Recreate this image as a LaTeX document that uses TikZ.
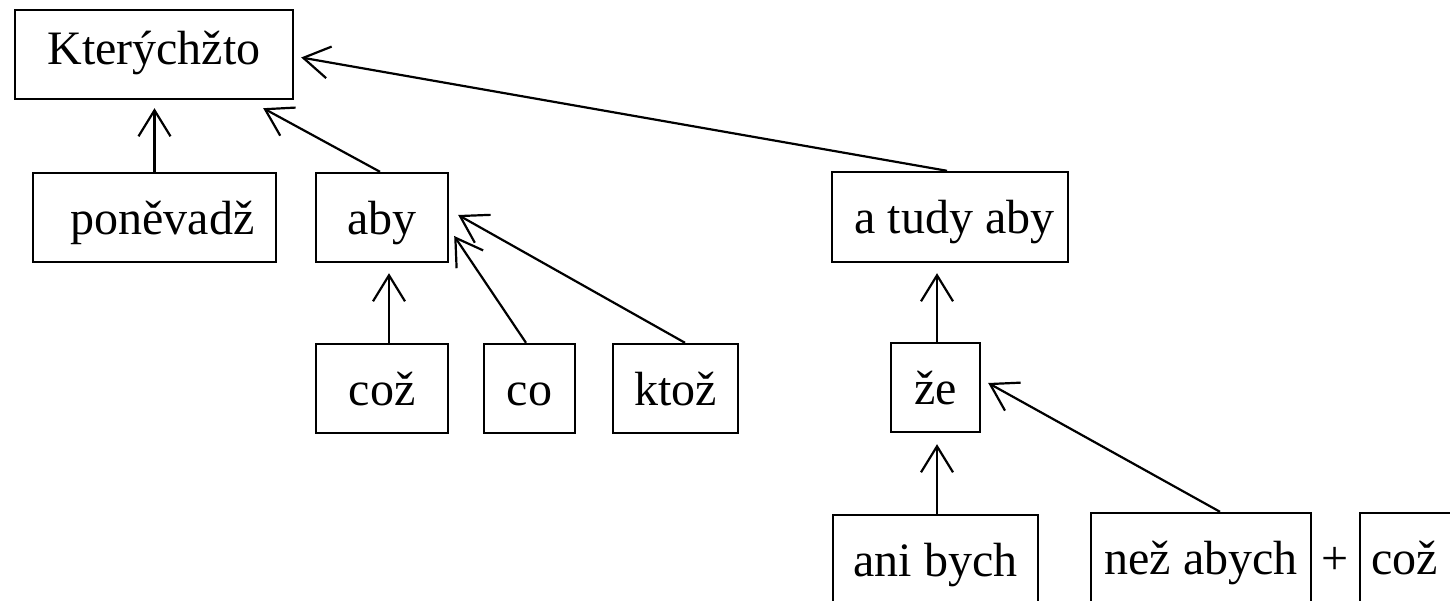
\documentclass[tikz,border=0pt]{standalone}
\usepackage{fontspec}
\setmainfont{Liberation Serif}
\usetikzlibrary{arrows.meta,calc}
\begin{document}
\begin{tikzpicture}[x=1pt,y=-1pt,
  wbox/.style={draw,line width=2.4pt,rectangle,inner sep=0pt,minimum height=89pt,
    font=\fontsize{48}{58}\selectfont,text height=33.6pt,text depth=0pt},
  arr/.style={line width=2.2pt,-{Straight Barb[length=26pt,width=32pt,line width=2.2pt]}},
  plain/.style={inner sep=0pt,font=\fontsize{48}{58}\selectfont}]
\useasboundingbox[fill=white] (0,0) rectangle (1450,601);
\clip (0,0) rectangle (1450,601);
\node[wbox,minimum width=278pt,text depth=13pt] (K) at (154,54.5) {Kterýchžto};
\node[wbox,minimum width=243pt] (P) at (154.5,217.5) {\hspace*{16pt}poněvadž};
\node[wbox,minimum width=132pt] (A) at (382,217.5) {aby};
\node[wbox,minimum width=236pt,minimum height=90pt] (T) at (950,217) {\hspace*{9pt}a tudy aby};
\node[wbox,minimum width=132pt] (C1) at (382,388.5) {což};
\node[wbox,minimum width=91pt] (C2) at (529.5,388.5) {co};
\node[wbox,minimum width=125pt] (KT) at (675.5,388.5) {ktož};
\node[wbox,minimum width=89pt] (Z) at (935.5,387.5) {že};
\node[wbox,minimum width=205pt] (AB) at (935.5,559.5) {ani bych};
\node[wbox,minimum width=220pt] (NA) at (1201,557.5) {než abych};
\node[plain] (plus) at (1335,561) {+};
\node[wbox,minimum width=104pt] (CZ) at (1412,557.5) {\hspace*{-15pt}což};
% connectors
\draw[arr,shorten >=8pt] (P.north) -- (P.north |- K.south);
\draw[arr] ($(A.north)+(-2,0)$) -- ($(K.south east)+(-31,8)$);
\draw[arr] ($(T.north)+(-3,0)$) -- ($(K.east)+(7,3)$);
\draw[arr] ($(C1.north)+(7,0)$) -- ($(C1.north |- A.south)+(7,10)$);
\draw[arr] ($(C2.north)+(-3.5,0)$) -- ($(A.east)+(5,18.5)$);
\draw[arr] ($(KT.north)+(9.5,0)$) -- ($(A.east)+(9,-2.5)$);
\draw[arr] ($(Z.north)+(1.5,0)$) -- ($(Z.north |- T.south)+(1.5,10)$);
\draw[arr] ($(AB.north)+(1.5,0)$) -- ($(AB.north |- Z.south)+(1.5,11)$);
\draw[arr] ($(NA.north)+(19,0)$) -- ($(Z.east)+(7,-4.5)$);
\end{tikzpicture}
\end{document}
